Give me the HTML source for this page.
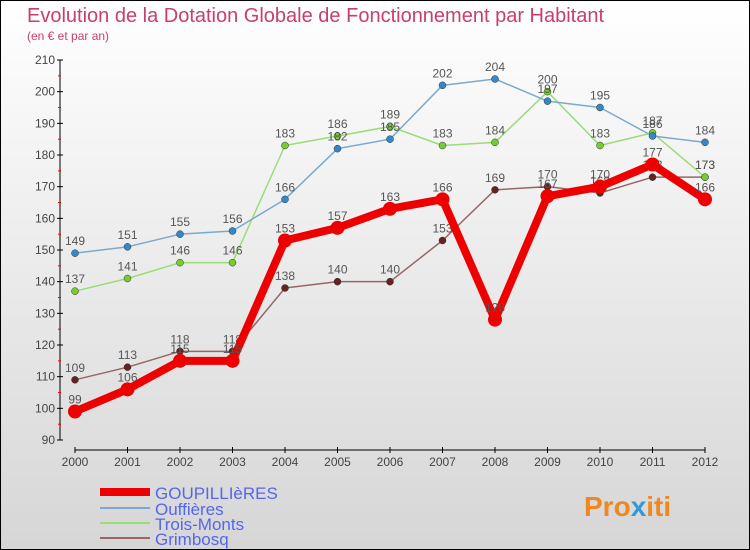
<!DOCTYPE html>
<html><head><meta charset="utf-8"><style>
body{margin:0;}
#c{width:750px;height:550px;position:relative;box-sizing:border-box;border:1px solid #000;background:linear-gradient(#fff,#d6d6d6);font-family:"Liberation Sans",sans-serif;overflow:hidden}
</style></head><body>
<div id="c">
<svg id="s" width="750" height="550" style="position:absolute;left:-1px;top:-1px">
<text x="27" y="22" font-size="20" fill="#c8406a">Evolution de la Dotation Globale de Fonctionnement par Habitant</text>
<text x="27" y="40" font-size="12" fill="#c8406a">(en € et par an)</text>
<g id="ax"></g><g id="ser"></g>
<g>
<line x1="100" y1="492" x2="150" y2="492" stroke="#e00" stroke-width="8"/>
<text x="155" y="499" font-size="17" fill="#5566ee">GOUPILLIèRES</text>
<line x1="100" y1="508" x2="150" y2="508" stroke="#7aaacc" stroke-width="2"/>
<text x="155" y="515" font-size="17" fill="#5566ee">Ouffières</text>
<line x1="100" y1="523" x2="150" y2="523" stroke="#99dd77" stroke-width="2"/>
<text x="155" y="530" font-size="17" fill="#5566ee">Trois-Monts</text>
<line x1="100" y1="538" x2="150" y2="538" stroke="#996666" stroke-width="2"/>
<text x="155" y="545" font-size="17" fill="#5566ee">Grimbosq</text>
</g>
<text x="584" y="516" font-size="28" font-weight="bold" fill="#ee8822">Pro<tspan fill="#3399dd">x</tspan>iti</text>
</svg></div>
<script>
const years=[2000,2001,2002,2003,2004,2005,2006,2007,2008,2009,2010,2011,2012];
const yTicks=[90,100,110,120,130,140,150,160,170,180,190,200,210];
const goupillieres=[99,106,115,115,153,157,163,166,128,167,170,177,166];
const ouffieres=[149,151,155,156,166,182,185,202,204,197,195,186,184];
const troisMonts=[137,141,146,146,183,186,189,183,184,200,183,187,173];
const grimbosq=[109,113,118,118,138,140,140,153,169,170,168,173,173];
const NS="http://www.w3.org/2000/svg";
const X=i=>75+i*52.5, Y=v=>440-(v-90)*380/120;
function mk(t,a,p){const e=document.createElementNS(NS,t);for(const k in a)e.setAttribute(k,a[k]);p.appendChild(e);return e;}
const ax=document.getElementById('ax'), ser=document.getElementById('ser');
let l=mk('line',{x1:60,y1:60,x2:60,y2:440,stroke:'#000'},ax);


l=mk('line',{x1:75,y1:450,x2:705,y2:450,stroke:'#000'},ax);


yTicks.forEach(v=>{mk('line',{x1:57,y1:Y(v),x2:63,y2:Y(v),stroke:'#000'},ax);
 if(v<210)mk('line',{x1:58,y1:Y(v+5),x2:61,y2:Y(v+5),stroke:'#f00'},ax);
 const t=mk('text',{x:55,y:Y(v)+4,'font-size':12,fill:'#444','text-anchor':'end'},ax);t.textContent=v;
 
 });
years.forEach((y,i)=>{mk('line',{x1:X(i),y1:447,x2:X(i),y2:453,stroke:'#000'},ax);
 const t=mk('text',{x:X(i),y:466,'font-size':12,fill:'#444','text-anchor':'middle'},ax);t.textContent=y;
 
 });
function series(d,col,dot,w,r,name,big){
 const g=mk('g',{},ser);
 
 
 mk('polyline',{points:d.map((v,i)=>X(i)+','+Y(v)).join(' '),fill:'none',stroke:col,'stroke-width':w,'stroke-linejoin':'round'},g);
 d.forEach((v,i)=>{const c=mk('circle',{cx:X(i),cy:Y(v),r:r,fill:dot,stroke:big?'none':'#333','stroke-width':0.5},g);
  
  
  const t=mk('text',{x:X(i),y:Y(v)-8,'font-size':12,fill:'#555','text-anchor':'middle'},g);t.textContent=v;
  
  });
}
series(grimbosq,'#996666','#662222',1.5,3.5,'grimbosq');
series(troisMonts,'#99dd77','#77cc33',1.5,3.5,'trois-monts');
series(ouffieres,'#7aaacc','#3388cc',1.5,3.5,'ouffieres');
series(goupillieres,'#e00','#e00',8,7,'goupillieres',true);
</script></body></html>
